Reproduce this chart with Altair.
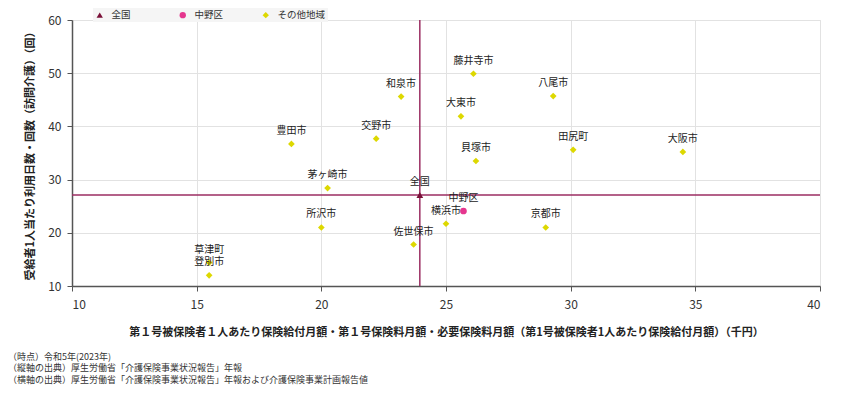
import altair as alt
import pandas as pd

FONT = "Noto Sans CJK JP"

names = ["全国", "中野区", "横浜市", "京都市", "貝塚市", "田尻町", "大阪市", "藤井寺市", "八尾市",
         "大東市", "和泉市", "交野市", "豊田市", "茅ヶ崎市", "所沢市", "佐世保市", "草津町", "登別市"]
x_vals = [23.95, 25.7, 25.0, 29.0, 26.2, 30.1, 34.5, 26.1, 29.3,
          25.6, 23.2, 22.2, 18.8, 20.25, 20.0, 23.7, 15.5, 15.5]
y_vals = [27.1, 24.1, 21.7, 21.0, 33.5, 35.6, 35.2, 49.9, 45.7,
          41.9, 45.6, 37.7, 36.7, 28.4, 21.0, 17.8, 14.4, 12.0]
groups = ["全国", "中野区"] + ["その他地域"] * 16

group_order = ["全国", "中野区", "その他地域"]
group_colors = ["#7a1038", "#e5368e", "#ddd800"]
group_shapes = ["triangle-up", "circle", "diamond"]

x_title = "第１号被保険者１人あたり保険給付月額・第１号保険料月額・必要保険料月額（第1号被保険者1人あたり保険給付月額）（千円）"
y_title = "受給者1人当たり利用日数・回数（訪問介護）（回）"
notes = [
    "（時点）令和5年(2023年)",
    "（縦軸の出典）厚生労働省「介護保険事業状況報告」年報",
    "（横軸の出典）厚生労働省「介護保険事業状況報告」年報および介護保険事業計画報告値",
]

df = pd.DataFrame({"name": names, "x": x_vals, "y": y_vals, "group": groups})
nat = df[df["name"] == "全国"]

xs = alt.Scale(domain=[10, 40], nice=False, zero=False)
ys = alt.Scale(domain=[10, 60], nice=False, zero=False)

x_axis = alt.Axis(values=[10, 15, 20, 25, 30, 35, 40], title=x_title, grid=True,
                  gridColor="#e2e2e2", domainColor="#555555", domainWidth=1.5,
                  tickColor="#555555", tickSize=5, labelFontSize=12, labelColor="#333333",
                  labelPadding=8, titleFontSize=11, titleFontWeight="bold", titleColor="#222222",
                  titleX=374, titleY=46, titleBaseline="middle", titleAlign="center")
y_axis = alt.Axis(values=[10, 20, 30, 40, 50, 60], title=y_title, grid=True,
                  gridColor="#e2e2e2", domainColor="#555555", domainWidth=1.5,
                  tickColor="#555555", tickSize=5, labelFontSize=12, labelColor="#333333",
                  labelPadding=6, titleFontSize=11, titleFontWeight="bold", titleColor="#222222",
                  titleX=-42, titleY=133, titleAngle=-90, titleBaseline="middle", titleAlign="center")

base = alt.Chart(df)

vrule = alt.Chart(nat).mark_rule(color="#9b2d62", strokeWidth=1.5).encode(
    x=alt.X("x:Q", scale=xs, axis=x_axis))
hrule = alt.Chart(nat).mark_rule(color="#9b2d62", strokeWidth=1.5).encode(
    y=alt.Y("y:Q", scale=ys, axis=y_axis))

points = base.mark_point(filled=True, opacity=1, size=45).encode(
    x=alt.X("x:Q", scale=xs),
    y=alt.Y("y:Q", scale=ys),
    color=alt.Color("group:N", scale=alt.Scale(domain=group_order, range=group_colors),
                    legend=alt.Legend(title=None, orient="none", direction="horizontal",
                                      columns=3, gridAlign="all", legendX=21, legendY=-12,
                                      labelFontSize=9.5, labelColor="#333333", labelFont=FONT,
                                      symbolSize=40, labelOffset=7, columnPadding=18,
                                      padding=2, fillColor="#f5f5f5")),
    shape=alt.Shape("group:N", scale=alt.Scale(domain=group_order, range=group_shapes),
                    legend=None),
)

labels = base.mark_text(dy=-13, fontSize=10, color="#222222", font=FONT).encode(
    x=alt.X("x:Q", scale=xs),
    y=alt.Y("y:Q", scale=ys),
    text="name:N",
)

note_df = pd.DataFrame({"k": [0]})
note_layers = []
for i, line in enumerate(notes):
    note_layers.append(
        alt.Chart(note_df).mark_text(
            text=line, align="left", baseline="middle", fontSize=9,
            color="#333333", font=FONT).encode(x=alt.value(-64), y=alt.value(336.5 + 11.5 * i))
    )

chart = alt.layer(vrule, hrule, points, labels, *note_layers).properties(
    width=748, height=266,
    autosize=alt.AutoSizeParams(type="none"),
    padding={"left": 64, "top": 12, "right": 13, "bottom": 101},
).configure_view(stroke=None).configure(font=FONT)

chart.save("out.html", embed_options={"renderer": "svg", "actions": False})
